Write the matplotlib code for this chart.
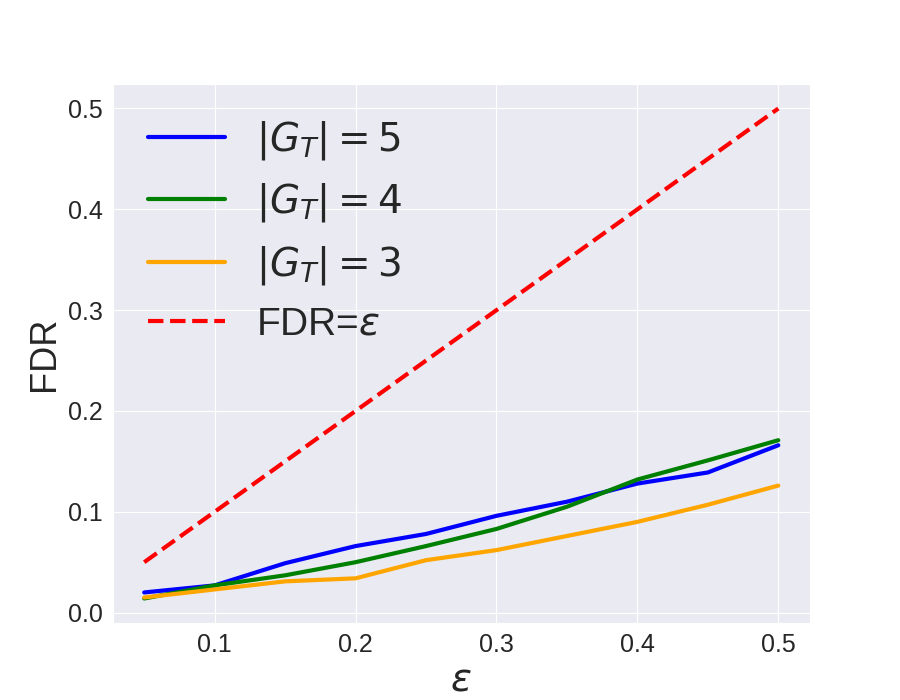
import matplotlib
matplotlib.use("Agg")
import matplotlib.pyplot as plt
import seaborn as sns

sns.set_style("darkgrid")
plt.rcParams['font.family'] = ['Liberation Sans', 'DejaVu Sans']

eps = [0.05, 0.1, 0.15, 0.2, 0.25, 0.3, 0.35, 0.4, 0.45, 0.5]
fdr_g5 = [0.020, 0.027, 0.049, 0.066, 0.078, 0.096, 0.110, 0.128, 0.139, 0.166]
fdr_g4 = [0.014, 0.027, 0.037, 0.050, 0.066, 0.083, 0.105, 0.132, 0.151, 0.171]
fdr_g3 = [0.015, 0.023, 0.031, 0.034, 0.052, 0.062, 0.076, 0.090, 0.107, 0.126]
labels = [r'$|G_T|=5$', r'$|G_T|=4$', r'$|G_T|=3$', r'FDR=$\epsilon$']

fig, ax = plt.subplots(figsize=(9, 7), dpi=100)
ax.plot(eps, fdr_g5, color='blue', lw=3, label=labels[0])
ax.plot(eps, fdr_g4, color='green', lw=3, label=labels[1])
ax.plot(eps, fdr_g3, color='orange', lw=3, label=labels[2])
ax.plot(eps, eps, color='red', lw=3, ls='--', label=labels[3])

ax.set_xlabel(r'$\epsilon$', fontsize=28)
ax.set_ylabel('FDR', fontsize=26)
ax.tick_params(labelsize=18)
ax.legend(fontsize=28, frameon=False, loc='upper left')
fig.savefig('out.png', dpi=100)
